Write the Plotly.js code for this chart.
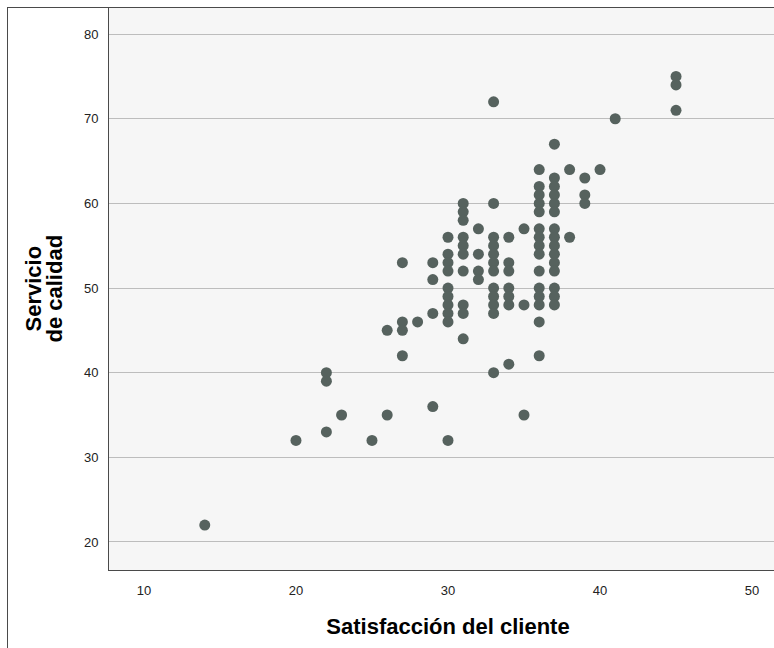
<!DOCTYPE html>
<html>
<head>
<meta charset="utf-8">
<script src="https://cdn.plot.ly/plotly-3.0.1.min.js"></script>
<style>
html, body { margin: 0; padding: 0; overflow: hidden; background: #ffffff; }
#chart { position: absolute; left: 0; top: 0; width: 787px; height: 648px; }
#frame { position: absolute; left: 7px; top: 7px; width: 900px; height: 800px;
         border-left: 1px solid #4a4a4a; border-top: 1px solid #4a4a4a; pointer-events: none; }
</style>
</head>
<body>
<div id="chart"></div>
<div id="frame"></div>
<script>
// Satisfacción del cliente (x) -> list of Servicio de calidad values (y) per column
const satisfaccion = [14, 20, 22, 23, 25, 26, 27, 28, 29, 30, 31, 32, 33, 34, 35, 36, 37, 38, 39, 40, 41, 45];
const servicio = [
  [22],
  [32],
  [40, 39, 33],
  [35],
  [32],
  [45, 35],
  [53, 46, 45, 42],
  [46],
  [53, 51, 47, 36],
  [56, 54, 53, 52, 50, 49, 48, 47, 46, 32],
  [60, 59, 58, 56, 55, 54, 52, 48, 47, 44],
  [57, 54, 52, 51],
  [72, 60, 56, 55, 54, 53, 52, 50, 49, 48, 47, 40],
  [56, 53, 52, 50, 49, 48, 41],
  [57, 48, 35],
  [64, 62, 61, 60, 59, 57, 56, 55, 54, 52, 50, 49, 48, 46, 42],
  [67, 63, 62, 61, 60, 59, 57, 56, 55, 54, 53, 52, 50, 49, 48],
  [64, 56],
  [63, 61, 60],
  [64],
  [70],
  [75, 74, 71]
];
const xTicks = [10, 20, 30, 40, 50];
const yTicks = [20, 30, 40, 50, 60, 70, 80];
const xTitle = 'Satisfacción del cliente';
const yTitleLines = ['Servicio', 'de calidad'];

const xs = [], ys = [];
satisfaccion.forEach((x, i) => servicio[i].forEach(y => { xs.push(x); ys.push(y); }));

const trace = {
  type: 'scatter', mode: 'markers', x: xs, y: ys,
  marker: { size: 11, color: '#56625e', line: { width: 0 } },
  hoverinfo: 'x+y'
};

const font = { family: 'Liberation Sans, Arial, sans-serif', size: 13, color: '#222222' };
const titleFont = { family: 'Liberation Sans, Arial, sans-serif', size: 22, color: '#000000', weight: 'bold' };

const W = 787, L = 109;
const yTitleX = [33, 54];  // pixel centres of the two title lines

const layout = {
  width: W, height: 648,
  margin: { l: L, r: 0, t: 7, b: 78 },
  paper_bgcolor: '#ffffff',
  plot_bgcolor: '#f6f6f6',
  showlegend: false,
  font: font,
  xaxis: {
    range: [7.7, 52.30], tickvals: xTicks, ticktext: xTicks.map(String),
    showgrid: false, zeroline: false, showline: true, linecolor: '#4a4a4a', linewidth: 1,
    ticks: '', ticklabelstandoff: 8, tickfont: font,
    title: { text: xTitle, standoff: 22, font: titleFont }
  },
  yaxis: {
    range: [16.69, 83.2], tickvals: yTicks, ticktext: yTicks.map(String),
    showgrid: true, gridcolor: '#bdbdbd', gridwidth: 1,
    zeroline: false, showline: true, linecolor: '#4a4a4a', linewidth: 1,
    ticks: '', ticklabelstandoff: 7, tickfont: font
  },
  annotations: yTitleLines.map((t, i) => ({
    text: t, textangle: -90, showarrow: false,
    xref: 'paper', yref: 'paper',
    x: (yTitleX[i] - L) / (W - L), y: 0.5,
    xanchor: 'center', yanchor: 'middle',
    font: titleFont
  }))
};

Plotly.newPlot('chart', [trace], layout, { staticPlot: true, displayModeBar: false });
</script>
</body>
</html>
